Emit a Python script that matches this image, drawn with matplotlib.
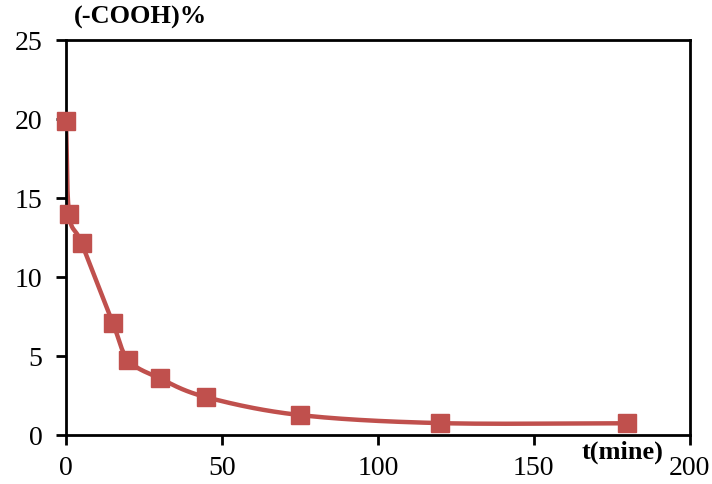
import numpy as np
import matplotlib
matplotlib.use("Agg")
import matplotlib.pyplot as plt

# reaction time (min) and carboxyl content (%)
t_min = [0, 1, 5, 15, 20, 30, 45, 75, 120, 180]
cooh_pct = [19.9, 14.0, 12.15, 7.1, 4.75, 3.6, 2.4, 1.27, 0.76, 0.75]

x_ticks = [0, 50, 100, 150, 200]
y_ticks = [0, 5, 10, 15, 20, 25]

RED = "#C0504D"


def catmull_rom(x, y, n=30):
    """Smooth curve through the points (like a spreadsheet 'smoothed line')."""
    x = np.asarray(x, float)
    y = np.asarray(y, float)
    px = np.concatenate([[2 * x[0] - x[1]], x, [2 * x[-1] - x[-2]]])
    py = np.concatenate([[2 * y[0] - y[1]], y, [2 * y[-1] - y[-2]]])
    xs, ys = [], []
    s = np.linspace(0, 1, n, endpoint=False)
    h00 = 2 * s**3 - 3 * s**2 + 1
    h10 = s**3 - 2 * s**2 + s
    h01 = -2 * s**3 + 3 * s**2
    h11 = s**3 - s**2
    for i in range(1, len(px) - 2):
        p0, p1, p2, p3 = px[i - 1], px[i], px[i + 1], px[i + 2]
        q0, q1, q2, q3 = py[i - 1], py[i], py[i + 1], py[i + 2]
        m1x, m2x = (p2 - p0) / 2, (p3 - p1) / 2
        m1y, m2y = (q2 - q0) / 2, (q3 - q1) / 2
        xs.append(h00 * p1 + h10 * m1x + h01 * p2 + h11 * m2x)
        ys.append(h00 * q1 + h10 * m1y + h01 * q2 + h11 * m2y)
    xs.append([x[-1]])
    ys.append([y[-1]])
    return np.concatenate(xs), np.concatenate(ys)


plt.rcParams["font.family"] = ["Liberation Serif", "DejaVu Serif"]

fig = plt.figure(figsize=(7.12, 4.84), dpi=100)
ax = fig.add_axes([0.0927, 0.101, 0.876, 0.816])

sx, sy = catmull_rom(t_min, cooh_pct)
ax.plot(sx, sy, color=RED, lw=3.2, solid_capstyle="round", zorder=2)
ax.plot(t_min, cooh_pct, ls="none", marker="s", ms=13, color=RED,
        markeredgecolor=RED, zorder=3, clip_on=False)

ax.set_xlim(0, 200)
ax.set_ylim(0, 25)
ax.set_xticks(x_ticks)
ax.set_yticks(y_ticks)
ax.tick_params(direction="out", length=7, width=2, labelsize=20, colors="black")
ax.tick_params(axis="x", pad=8)
ax.tick_params(axis="y", pad=10)
for sp in ax.spines.values():
    sp.set_linewidth(2)
    sp.set_color("black")

fig.text(0.197, 0.963, "(-COOH)%", ha="center", va="center",
         fontsize=19, fontweight="bold")
fig.text(0.874, 0.066, "t(mine)", ha="center", va="center",
         fontsize=19, fontweight="bold")

fig.savefig("out.png", dpi=100)
